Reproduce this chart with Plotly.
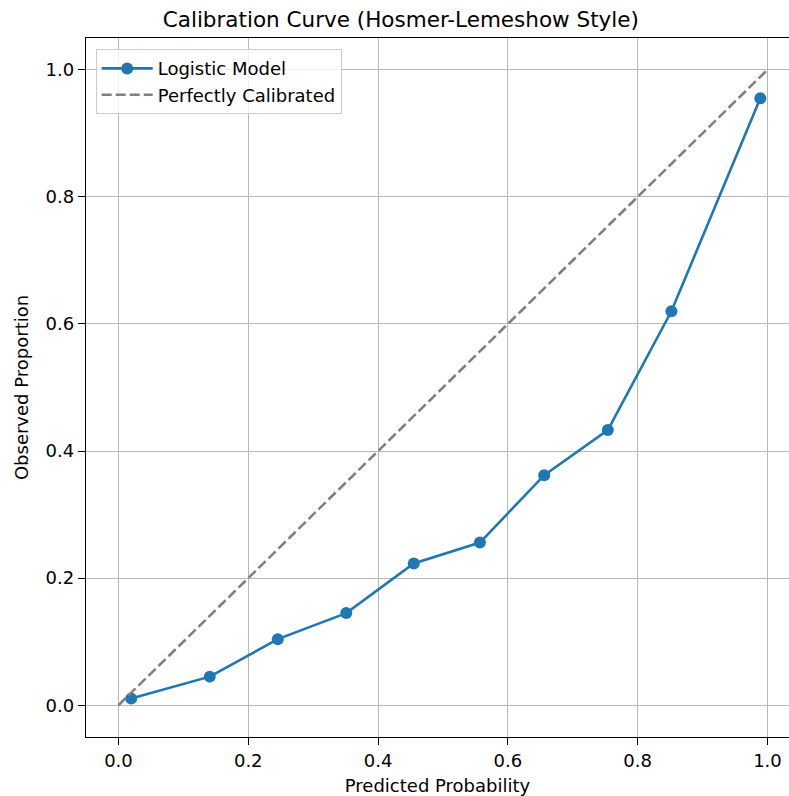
import plotly.graph_objects as go

predicted = [0.0196, 0.1407, 0.2455, 0.351, 0.455, 0.557, 0.656, 0.754, 0.852, 0.989]
observed = [0.0104, 0.045, 0.104, 0.145, 0.223, 0.256, 0.362, 0.433, 0.620, 0.955]
diag_x = [0.0, 1.0]
diag_y = [0.0, 1.0]
tick_vals = [0.0, 0.2, 0.4, 0.6, 0.8, 1.0]

FONT = "DejaVu Sans"

fig = go.Figure()
fig.add_trace(go.Scatter(
    x=predicted, y=observed, mode="lines+markers", name="Logistic Model",
    line=dict(color="#1f77b4", width=2.6),
    marker=dict(color="#1f77b4", size=12),
))
fig.add_trace(go.Scatter(
    x=diag_x, y=diag_y, mode="lines", name="Perfectly Calibrated",
    line=dict(color="#808080", width=2.6, dash="10px,4px"),
))

axis_common = dict(
    showgrid=True, gridcolor="#b8b8b8", gridwidth=1.2,
    zeroline=False, showline=True, linecolor="black", linewidth=1.4,
    ticks="outside", ticklen=7, tickwidth=1.4, tickcolor="black",
    tickvals=tick_vals, tickformat=".1f",
    tickfont=dict(family=FONT, size=18, color="black"),
)

fig.update_layout(
    width=789, height=796,
    margin=dict(l=86, r=0, t=38, b=59),
    paper_bgcolor="white", plot_bgcolor="white",
    font=dict(family=FONT, size=18, color="black"),
    title=dict(text="Calibration Curve (Hosmer-Lemeshow Style)",
               x=0.508, xanchor="center", y=1 - 19 / 796, yanchor="middle",
               font=dict(family=FONT, size=21.5, color="black")),
    xaxis=dict(range=[-0.05, 1.0332], mirror=True,
               title=dict(text="Predicted Probability", standoff=9,
                          font=dict(family=FONT, size=18, color="black")),
               **axis_common),
    yaxis=dict(range=[-0.05, 1.05], mirror=False,
               title=dict(text="Observed Proportion", standoff=12,
                          font=dict(family=FONT, size=18, color="black")),
               **axis_common),
    legend=dict(x=0.0138, y=0.984, xanchor="left", yanchor="top",
                bgcolor="rgba(255,255,255,0.8)", bordercolor="#cccccc", borderwidth=1,
                font=dict(family=FONT, size=18, color="black"),
                tracegroupgap=0, itemwidth=51),
    showlegend=True,
)

fig.write_html(
    "out.html",
    config={"displayModeBar": False},
    post_script="document.body.style.margin='0';document.body.style.overflow='hidden';",
)
